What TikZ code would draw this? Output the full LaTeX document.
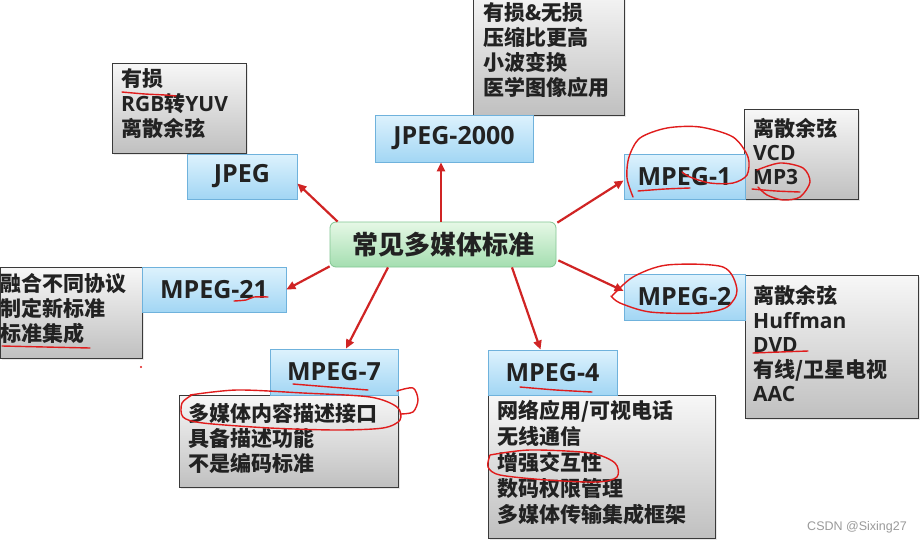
\documentclass[tikz,border=0pt]{standalone}
\usepackage{fontspec}
\setmainfont{Noto Sans CJK SC}
\newfontfamily\lat{Open Sans}
\newfontfamily\wm{Liberation Sans}
\usetikzlibrary{arrows.meta,calc,shadows}
\definecolor{btop}{HTML}{DDF2FD}
\definecolor{bbot}{HTML}{A2D6F4}
\definecolor{bborder}{HTML}{6FB2DC}
\definecolor{gtop}{HTML}{F7F7F7}
\definecolor{gbot}{HTML}{C0C0C0}
\definecolor{gborder}{HTML}{3A3A3A}
\definecolor{ctop}{HTML}{E6F8E6}
\definecolor{cbot}{HTML}{A4DEB0}
\definecolor{cborder}{HTML}{82C692}
\definecolor{txt}{HTML}{222222}
\definecolor{arrred}{HTML}{D02424}
\definecolor{annored}{HTML}{E01C1C}
\definecolor{wmgray}{HTML}{9A9A9A}
\tikzset{
  bnode/.style={draw=bborder, line width=0.8pt, top color=btop, bottom color=bbot,
    inner sep=0pt, font=\lat\bfseries\fontsize{25}{30}\selectfont, text=txt},
  gbox/.style={draw=gborder, line width=1pt, top color=gtop, bottom color=gbot,
    inner sep=0pt, drop shadow={opacity=0.18, shadow xshift=1.5pt, shadow yshift=-1.5pt}},
  gtext/.style={anchor=west, align=left, inner sep=0pt,
    font=\bfseries\fontsize{21}{25}\selectfont, text=txt},
  cnode/.style={draw=cborder, line width=0.8pt, top color=ctop, bottom color=cbot,
    rounded corners=6pt, inner sep=0pt, font=\bfseries\fontsize{26}{30}\selectfont, text=txt},
  arr/.style={draw=arrred, line width=2.2pt, -{Triangle[length=9pt,width=8pt]}},
  anno/.style={draw=annored, line width=1.4pt, line cap=round, line join=round},
}
\newcommand{\la}[1]{{\lat\bfseries #1}}
\begin{document}
\begin{tikzpicture}[x=1pt,y=-1pt]
\useasboundingbox (0,0) rectangle (924,544);
\clip (0,0) rectangle (924,544);
\fill[white] (0,0) rectangle (924,544);

% gray description boxes
\node[gbox, minimum width=151pt, minimum height=127pt] (g2k) at (548.5,51.5) {};
\node[gtext] (t2k) at (483,50.5) {有损\&无损\\压缩比更高\\小波变换\\医学图像应用};

\node[gbox, minimum width=134pt, minimum height=90pt] (gj) at (179,108) {};
\node[gtext] (tj) at (121,104) {有损\\\la{RGB}转\la{YUV}\\离散余弦};

\node[gbox, minimum width=114pt, minimum height=90pt] (g1) at (801,154) {};
\node[gtext, font=\bfseries\fontsize{21}{24}\selectfont] (t1) at (753,152) {离散余弦\\\la{VCD}\\\la{MP3}};

\node[gbox, minimum width=173pt, minimum height=143pt] (g2) at (831.5,346.5) {};
\node[gtext, font=\bfseries\fontsize{21}{24.5}\selectfont] (t2) at (753,344) {离散余弦\\\la{Huffman}\\\la{DVD}\\有线/卫星电视\\\la{AAC}};

\node[gbox, minimum width=142pt, minimum height=91pt] (g21) at (71,312.5) {};
\node[gtext] (t21) at (0,308.5) {融合不同协议\\制定新标准\\标准集成};

\node[gbox, minimum width=219pt, minimum height=92pt] (g7) at (288.5,441) {};
\node[gtext] (t7) at (188,438) {多媒体内容描述接口\\具备描述功能\\不是编码标准};

\node[gbox, minimum width=227pt, minimum height=143pt] (g4) at (601.5,466.5) {};
\node[gtext, font=\bfseries\fontsize{21}{26}\selectfont] (t4) at (497,463) {网络应用/可视电话\\无线通信\\增强交互性\\数码权限管理\\多媒体传输集成框架};

% blue standard nodes
\node[bnode, minimum width=110pt, minimum height=45pt] (jpeg) at (242,176.5) {JPEG};
\node[bnode, minimum width=158pt, minimum height=47pt] (j2k) at (454,138.5) {JPEG-2000};
\node[bnode, minimum width=121pt, minimum height=45pt] (m1) at (684.5,176.5) {MPEG-1};
\node[bnode, minimum width=121pt, minimum height=46pt] (m2) at (684.5,297) {MPEG-2};
\node[bnode, minimum width=144pt, minimum height=45pt] (m21) at (214,289.5) {MPEG-21};
\node[bnode, minimum width=128pt, minimum height=46pt] (m7) at (334,372) {MPEG-7};
\node[bnode, minimum width=129pt, minimum height=45pt] (m4) at (552.5,372.5) {MPEG-4};

% center
\node[cnode, minimum width=226pt, minimum height=45pt] (c) at (443,244.5) {常见多媒体标准};

% arrows
\draw[arr] ($(c.north west)+(8,0)$) -- ($(jpeg.east)+(0,7)$);
\draw[arr] ($(c.north)+(-2,0)$) -- ($(j2k.south)+(-13,0)$);
\draw[arr] ($(c.north east)+(1,1)$) -- ($(m1.west)+(0,4)$);
\draw[arr] ($(c.south east)+(2,-7)$) -- ($(m2.west)+(0,-6)$);
\draw[arr] ($(c.south)+(69,0)$) -- ($(m4.north)+(-12,0)$);
\draw[arr] ($(c.south)+(-55,0)$) -- ($(m7.north)+(12,0)$);
\draw[arr] ($(c.south west)+(0,-1)$) -- (m21.east);

% hand-drawn annotations
\draw[anno] plot[smooth] coordinates {(122,92) (145,94) (165,95) (176,96)};
\draw[anno] plot[smooth] coordinates {(633,197) (627,178) (629,157) (640,138) (667,128) (700,127) (733,137) (748,157) (747,175) (733,183) (710,183) (690,177) (682,172)};
\draw[anno] plot[smooth] coordinates {(638,191) (665,189) (690,188)};
\draw[anno] plot[smooth] coordinates {(757,170) (780,163) (803,168) (810,182) (800,197) (783,200) (767,195) (758,187)};
\draw[anno] plot[smooth] coordinates {(752,189) (776,191) (800,192)};
\draw[anno] plot[smooth] coordinates {(612,296) (633,277) (667,265) (723,267) (737,290) (727,307) (700,313) (650,312) (620,303) (611,296)};
\draw[anno] plot[smooth] coordinates {(753,353) (780,352) (808,351)};
\draw[anno] plot[smooth] coordinates {(234,301) (246,300) (254,297) (268,297)};
\draw[anno] plot[smooth] coordinates {(2,346) (45,347) (90,348)};
\draw[anno] plot[smooth] coordinates {(293,384) (330,387) (368,390)};
\draw[anno] plot[smooth] coordinates {(190,395) (237,390) (303,393) (370,397) (397,407) (400,420) (383,428) (337,430) (270,428) (203,423) (183,417) (182,403) (192,395)};
\draw[anno] plot[smooth] coordinates {(397,391) (413,388) (418,400) (413,412) (400,414)};
\draw[anno] plot[smooth] coordinates {(520,387) (556,390) (592,392)};
\draw[anno] plot[smooth] coordinates {(490,455) (530,450) (590,453) (615,463) (617,477) (597,482) (547,480) (500,475) (488,467) (490,455)};
\fill[annored] (141,367) circle (1.2pt);

% watermark
\node[font=\wm\fontsize{12.5}{14}\selectfont, text=wmgray, inner sep=0pt] (wm) at (857,527) {CSDN @Sixing27};
\end{tikzpicture}
\end{document}
